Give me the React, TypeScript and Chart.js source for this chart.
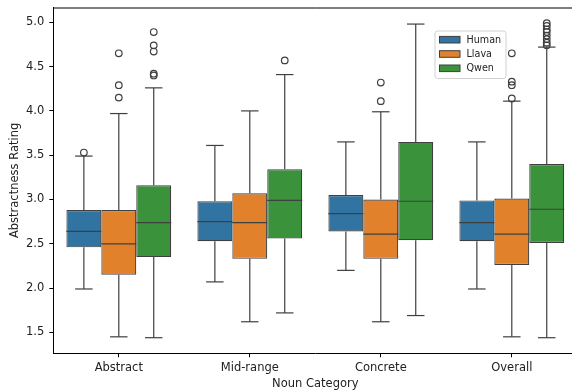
import React, { useEffect, useRef } from 'react';
import { Chart, registerables } from 'chart.js';

Chart.register(...registerables);

const categories = ['Abstract', 'Mid-range', 'Concrete', 'Overall'];
const seriesNames = ['Human', 'Llava', 'Qwen'];
const seriesColors = ['#3274a1', '#e1812c', '#3a923a'];

// Each entry: [lower whisker, Q1, median, Q3, upper whisker]
const humanStats = [
  [1.99, 2.46, 2.64, 2.88, 3.49],
  [2.07, 2.53, 2.75, 2.98, 3.61],
  [2.2, 2.64, 2.84, 3.05, 3.65],
  [1.99, 2.53, 2.74, 2.99, 3.65],
];
const llavaStats = [
  [1.45, 2.15, 2.5, 2.88, 3.97],
  [1.62, 2.33, 2.74, 3.07, 4.0],
  [1.62, 2.33, 2.61, 3.0, 3.99],
  [1.45, 2.26, 2.61, 3.01, 4.11],
];
const qwenStats = [
  [1.44, 2.35, 2.74, 3.16, 4.26],
  [1.72, 2.56, 2.99, 3.34, 4.41],
  [1.69, 2.54, 2.98, 3.65, 4.98],
  [1.44, 2.51, 2.89, 3.4, 4.72],
];

const humanOutliers = [[3.53], [], [], []];
const llavaOutliers = [[4.15, 4.29, 4.65], [], [4.11, 4.32], [4.14, 4.29, 4.33, 4.65]];
const qwenOutliers = [
  [4.4, 4.42, 4.67, 4.74, 4.89],
  [4.57],
  [],
  [4.74, 4.77, 4.81, 4.85, 4.89, 4.92, 4.96, 4.99],
];

const yTicks = [1.5, 2.0, 2.5, 3.0, 3.5, 4.0, 4.5, 5.0];
const yMin = 1.264;
const yMax = 5.167;

const allStats = [humanStats, llavaStats, qwenStats];
const allOutliers = [humanOutliers, llavaOutliers, qwenOutliers];

const EDGE = '#3f3f3f';
const FONT = "'DejaVu Sans', sans-serif";

const boxPlugin = {
  id: 'boxExtras',
  afterDatasetsDraw(chart: any) {
    const { ctx, chartArea, scales } = chart;
    const ys = scales.y;
    ctx.save();
    ctx.strokeStyle = EDGE;
    ctx.lineWidth = 1.2;
    chart.data.datasets.forEach((ds: any, di: number) => {
      const meta = chart.getDatasetMeta(di);
      const stats = allStats[di];
      const outs = allOutliers[di];
      meta.data.forEach((bar: any, i: number) => {
        const [lo, q1, med, q3, hi] = stats[i];
        const x = bar.x;
        const w = bar.width;
        const line = (x1: number, y1: number, x2: number, y2: number) => {
          ctx.beginPath();
          ctx.moveTo(x1, y1);
          ctx.lineTo(x2, y2);
          ctx.stroke();
        };
        line(x, ys.getPixelForValue(q3), x, ys.getPixelForValue(hi));
        line(x, ys.getPixelForValue(q1), x, ys.getPixelForValue(lo));
        line(x - w / 4, ys.getPixelForValue(hi), x + w / 4, ys.getPixelForValue(hi));
        line(x - w / 4, ys.getPixelForValue(lo), x + w / 4, ys.getPixelForValue(lo));
        line(x - w / 2, ys.getPixelForValue(med), x + w / 2, ys.getPixelForValue(med));
        outs[i].forEach((v: number) => {
          ctx.beginPath();
          ctx.arc(x, ys.getPixelForValue(v), 3.3, 0, Math.PI * 2);
          ctx.stroke();
        });
      });
    });
    ctx.strokeStyle = '#000';
    ctx.lineWidth = 1;
    ctx.beginPath();
    ctx.moveTo(chartArea.left, chartArea.top + 0.5);
    ctx.lineTo(chartArea.right, chartArea.top + 0.5);
    ctx.stroke();
    ctx.restore();
  },
  afterDraw(chart: any) {
    const { ctx } = chart;
    ctx.save();
    const bx = 435, by = 31, bw = 71, bh = 47.5;
    const r = 2.5;
    ctx.beginPath();
    ctx.moveTo(bx + r, by);
    ctx.lineTo(bx + bw - r, by);
    ctx.quadraticCurveTo(bx + bw, by, bx + bw, by + r);
    ctx.lineTo(bx + bw, by + bh - r);
    ctx.quadraticCurveTo(bx + bw, by + bh, bx + bw - r, by + bh);
    ctx.lineTo(bx + r, by + bh);
    ctx.quadraticCurveTo(bx, by + bh, bx, by + bh - r);
    ctx.lineTo(bx, by + r);
    ctx.quadraticCurveTo(bx, by, bx + r, by);
    ctx.closePath();
    ctx.fillStyle = 'rgba(255,255,255,0.8)';
    ctx.fill();
    ctx.strokeStyle = '#d0d0d0';
    ctx.lineWidth = 1;
    ctx.stroke();
    ctx.font = `9.6px ${FONT}`;
    ctx.textBaseline = 'middle';
    ctx.textAlign = 'left';
    seriesNames.forEach((name, i) => {
      const cy = 39.7 + i * 14.3;
      ctx.fillStyle = seriesColors[i];
      ctx.fillRect(439.5, cy - 3.3, 20.5, 6.6);
      ctx.strokeStyle = EDGE;
      ctx.lineWidth = 1;
      ctx.strokeRect(439.5, cy - 3.3, 20.5, 6.6);
      ctx.fillStyle = '#222';
      ctx.fillText(name, 466.5, cy + 0.5);
    });
    ctx.restore();
  },
};

export default function App() {
  const ref = useRef<HTMLCanvasElement | null>(null);
  useEffect(() => {
    document.body.style.margin = '0';
    document.body.style.overflow = 'hidden';
    const canvas = ref.current!;
    const chart = new Chart(canvas, {
      type: 'bar',
      data: {
        labels: categories,
        datasets: seriesNames.map((name, si) => ({
          label: name,
          data: allStats[si].map((s) => [s[1], s[3]]) as any,
          backgroundColor: seriesColors[si],
          borderColor: EDGE,
          borderWidth: 1.2,
          borderSkipped: false,
          barPercentage: 1,
          categoryPercentage: 0.8,
        })),
      },
      options: {
        responsive: false,
        animation: false,
        devicePixelRatio: 1,
        events: [],
        layout: { padding: { top: 7.5, right: 0.7, left: 0, bottom: 0 } },
        plugins: {
          legend: { display: false },
          tooltip: { enabled: false },
        },
        scales: {
          x: {
            type: 'category',
            offset: true,
            grid: {
              display: true,
              drawOnChartArea: false,
              offset: false,
              tickLength: 4,
              color: '#000',
            },
            border: { display: true, color: '#000', width: 1 },
            ticks: {
              color: '#222',
              font: { family: FONT, size: 11.5 },
              padding: 4,
              maxRotation: 0,
            },
            title: {
              display: true,
              text: 'Noun Category',
              color: '#222',
              font: { family: FONT, size: 11.5 },
              padding: { top: 0, bottom: 0 },
            },
            afterFit: (s: any) => {
              s.height = 37.7;
              s.paddingLeft = 0;
              s.paddingRight = 0;
            },
          },
          y: {
            type: 'linear',
            min: yMin,
            max: yMax,
            grid: {
              display: true,
              drawOnChartArea: false,
              tickLength: 4,
              color: '#000',
            },
            border: { display: true, color: '#000', width: 1 },
            afterBuildTicks: (s: any) => {
              s.ticks = yTicks.map((v) => ({ value: v }));
            },
            ticks: {
              color: '#222',
              font: { family: FONT, size: 11.5 },
              padding: 5,
              callback: (v: any) => Number(v).toFixed(1),
            },
            title: {
              display: true,
              text: 'Abstractness Rating',
              color: '#222',
              font: { family: FONT, size: 11.5 },
              padding: { top: 8, bottom: 0 },
            },
            afterFit: (s: any) => {
              s.width = 53.3;
              s.paddingTop = 0;
              s.paddingBottom = 0;
            },
          },
        },
      },
      plugins: [boxPlugin],
    });
    return () => chart.destroy();
  }, []);
  return (
    <div style={{ width: 572, height: 391, overflow: 'hidden', position: 'relative' }}>
      <canvas ref={ref} width={578} height={391} style={{ display: 'block', width: 578, height: 391 }} />
    </div>
  );
}
